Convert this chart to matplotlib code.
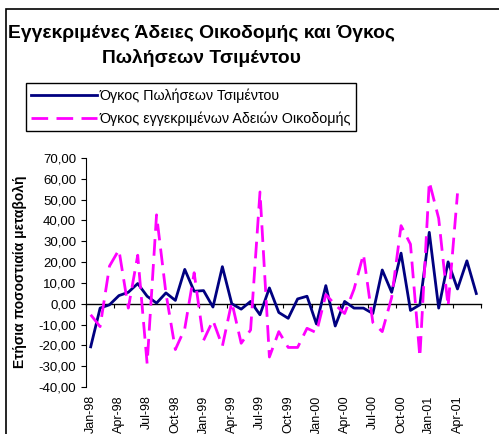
import pandas as pd
import matplotlib.pyplot as plt
from matplotlib.patches import Rectangle
from matplotlib.ticker import FuncFormatter

plt.rcParams["font.family"] = ["Liberation Sans", "DejaVu Sans"]
plt.rcParams["lines.scale_dashes"] = False

# monthly categories Jan-98 .. Jun-01
months = pd.date_range("1998-01-01", periods=42, freq="MS").strftime("%b-%y").tolist()

# annual % change, cement sales volume
cement = [-20.7, -2.1, -0.5, 3.9, 5.5, 9.7, 3.6, 0.3, 5.2, 1.6,
          16.5, 6.0, 6.3, -1.6, 17.8, 0.0, -2.6, 1.1, -5.3, 7.6,
          -4.2, -7.0, 2.3, 3.6, -9.7, 8.7, -10.7, 1.1, -2.1, -2.1,
          -4.7, 16.2, 5.5, 24.3, -3.2, -0.5, 34.3, -2.1, 20.1, 7.1,
          20.6, 4.9]

# annual % change, approved building permits (ends Apr-01)
permits = [-5.3, -11.0, 18.1, 25.9, -2.1, 23.3, -28.8, 42.7, 5.0, -22.0,
           -12.0, 14.9, -17.6, -8.0, -20.4, 0.8, -19.0, -12.6, 53.7, -25.6,
           -13.4, -21.0, -21.0, -11.8, -13.9, 4.4, -0.5, -4.7, 7.0, 23.8,
           -9.0, -13.4, 3.0, 37.5, 28.6, -25.6, 58.6, 41.0, -1.3, 53.0]

label_cement = "Όγκος Πωλήσεων Τσιμέντου"
label_permits = "Όγκος εγγεκριμένων Αδειών Οικοδομής"

W, H = 499, 434
fig = plt.figure(figsize=(W / 100, H / 100), dpi=100)
ax = fig.add_axes([86 / W, 1 - 387 / H, (481 - 86) / W, (387 - 158) / H])

ax.plot(range(len(cement)), cement, color="#000080", lw=2, label=label_cement)
ax.plot(range(len(permits)), permits, color="#FF00FF", lw=2, dashes=(12, 6),
        label=label_permits)

ax.set_xlim(-0.5, len(months) - 0.5)
ax.set_ylim(-40, 70)
ax.set_yticks(range(-40, 71, 10))
ax.yaxis.set_major_formatter(FuncFormatter(lambda v, p: f"{v:.2f}".replace(".", ",")))
ax.tick_params(axis="y", length=3.6, width=0.8, pad=3.5, labelsize=9.5)
ax.set_xticks(range(0, len(months), 3))
ax.set_xticklabels(months[::3], rotation=90)
ax.tick_params(axis="x", length=0, pad=6, labelsize=9)
for s in ["top", "right", "bottom"]:
    ax.spines[s].set_visible(False)

# category axis crossing at zero, ticks between categories
zero = ax.secondary_xaxis(0, transform=ax.transData)
zero.set_xticks([i - 0.5 for i in range(0, len(months) + 1, 3)])
zero.set_xticklabels([])
zero.tick_params(length=3, width=0.8)
zero.spines["bottom"].set_linewidth(1)

fig.text(201 / W, 1 - 33 / H, "Εγγεκριμένες Άδειες Οικοδομής και Όγκος",
         ha="center", va="center", fontsize=13.9, fontweight="bold")
fig.text(201 / W, 1 - 58 / H, "Πωλήσεων Τσιμέντου",
         ha="center", va="center", fontsize=13.9, fontweight="bold")
fig.text(19.5 / W, 1 - 272 / H, "Ετήσια ποσοστιαία μεταβολή", rotation=90,
         ha="center", va="center", fontsize=10, fontweight="bold")

leg = fig.legend(loc="upper left", bbox_to_anchor=(26 / W, 1 - 83 / H),
                 frameon=True, fancybox=False, edgecolor="black", framealpha=1,
                 fontsize=10.3, handlelength=4.6, handletextpad=0.2,
                 borderpad=0.35, labelspacing=0.6, borderaxespad=0)
leg.get_frame().set_linewidth(1)

fig.add_artist(Rectangle((6 / W, -0.1), 1.2, 1.1 - 9 / H, transform=fig.transFigure,
                         fill=False, lw=1.2, ec="black"))

fig.savefig("out.png", dpi=100)
